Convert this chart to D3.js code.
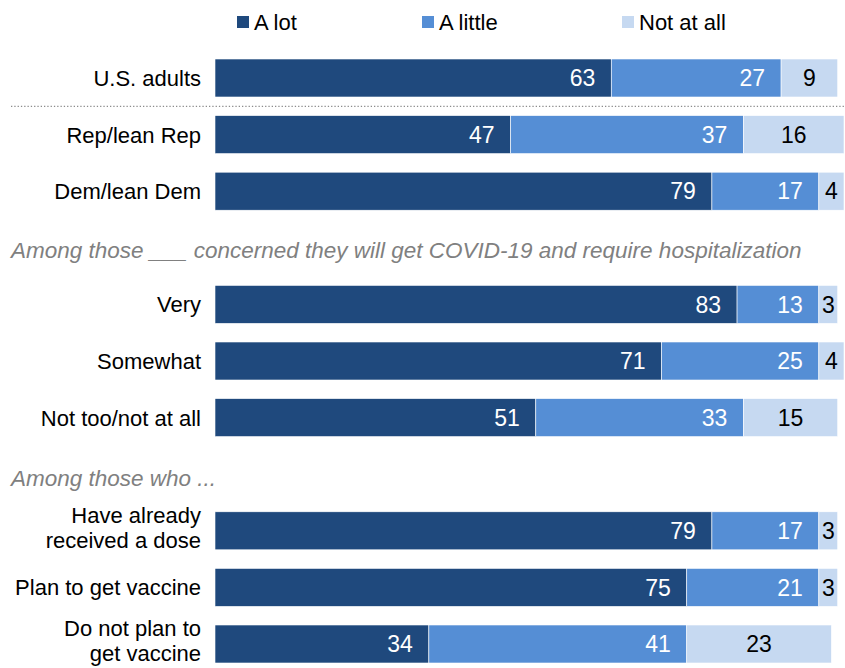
<!DOCTYPE html>
<html>
<head>
<meta charset="utf-8">
<script src="https://cdn.jsdelivr.net/npm/d3@7"></script>
<style>
  html, body { margin: 0; padding: 0; background: #fff; }
  svg { display: block; font-family: "Liberation Sans", Arial, sans-serif; }
</style>
</head>
<body>
<svg id="chart" width="845" height="668"></svg>
<script>
// ---- data ----
const rowKeys = ["us", "rep", "dem", "h1", "very", "somewhat", "nottoo", "h2", "already", "plan", "donot"];
const rowLabels = {
  us: ["U.S. adults"],
  rep: ["Rep/lean Rep"],
  dem: ["Dem/lean Dem"],
  very: ["Very"],
  somewhat: ["Somewhat"],
  nottoo: ["Not too/not at all"],
  already: ["Have already", "received a dose"],
  plan: ["Plan to get vaccine"],
  donot: ["Do not plan to", "get vaccine"]
};
const headings = {
  h1: "Among those ___ concerned they will get COVID-19 and require hospitalization",
  h2: "Among those who ..."
};
const seriesNames = ["A lot", "A little", "Not at all"];
const aLot    = { us: 63, rep: 47, dem: 79, very: 83, somewhat: 71, nottoo: 51, already: 79, plan: 75, donot: 34 };
const aLittle = { us: 27, rep: 37, dem: 17, very: 13, somewhat: 25, nottoo: 33, already: 17, plan: 21, donot: 41 };
const notAtAll= { us: 9,  rep: 16, dem: 4,  very: 3,  somewhat: 4,  nottoo: 15, already: 3,  plan: 3,  donot: 23 };
const colors = ["#1F497D", "#558ED5", "#C6D9F1"];
const labelColors = ["#ffffff", "#ffffff", "#000000"];

// ---- build ----
const svg = d3.select("#chart");
const x = d3.scaleLinear().domain([0, 100]).range([215, 844]);
const y = d3.scalePoint().domain(rowKeys).range([78, 644]);
const barH = 38;
const fontSize = 22;

const dataRows = rowKeys.filter(k => rowLabels[k]).map(k => {
  const vals = [aLot[k], aLittle[k], notAtAll[k]];
  let cum = 0;
  const segs = vals.map((v, i) => { const s = { key: k, i, v, x0: cum, x1: cum + v }; cum += v; return s; });
  return { key: k, segs };
});

// bars
const rows = svg.selectAll("g.row").data(dataRows).join("g").attr("class", "row");
rows.selectAll("rect").data(d => d.segs).join("rect")
  .attr("x", d => x(d.x0))
  .attr("y", d => y(d.key) - barH / 2)
  .attr("width", d => x(d.x1) - x(d.x0))
  .attr("height", barH)
  .attr("fill", d => colors[d.i])
  .attr("stroke", "#ffffff")
  .attr("stroke-width", 0.6);

rows.selectAll("text.val").data(d => d.segs).join("text")
  .attr("class", "val")
  .attr("x", d => d.i === 2 ? (x(d.x0) + x(d.x1)) / 2 : x(d.x1) - 16)
  .attr("y", d => y(d.key))
  .attr("dy", "0.36em")
  .attr("text-anchor", d => d.i === 2 ? "middle" : "end")
  .attr("fill", d => labelColors[d.i])
  .attr("font-size", 23)
  .text(d => d.v);

// category labels
const lab = svg.selectAll("text.cat").data(dataRows).join("text")
  .attr("class", "cat")
  .attr("x", 201)
  .attr("text-anchor", "end")
  .attr("font-size", fontSize)
  .attr("fill", "#000");
lab.each(function(d) {
  const lines = rowLabels[d.key];
  const lh = 25;
  const t = d3.select(this);
  lines.forEach((ln, j) => {
    t.append("tspan")
      .attr("x", 201)
      .attr("y", y(d.key) + (j - (lines.length - 1) / 2) * lh - (lines.length > 1 ? 3 : 0))
      .attr("dy", "0.36em")
      .text(ln);
  });
});

// headings
svg.selectAll("text.head").data(Object.keys(headings)).join("text")
  .attr("class", "head")
  .attr("x", 11)
  .attr("y", k => y(k) + (k === "h1" ? 2 : 4))
  .attr("dy", "0.36em")
  .attr("font-size", 22.5)
  .attr("font-style", "italic")
  .attr("fill", "#808080")
  .text(k => headings[k]);

// dotted separator
svg.append("line")
  .attr("x1", 11).attr("x2", 845)
  .attr("y1", (y("us") + y("rep")) / 2).attr("y2", (y("us") + y("rep")) / 2)
  .attr("stroke", "#8c8c8c")
  .attr("stroke-width", 1.3)
  .attr("stroke-dasharray", "1.3,2");

// legend
const legX = [237, 422, 622];
const leg = svg.selectAll("g.leg").data(seriesNames).join("g").attr("class", "leg")
  .attr("transform", (d, i) => `translate(${legX[i]},0)`);
leg.append("rect").attr("x", 0).attr("y", 16).attr("width", 12).attr("height", 12)
  .attr("fill", (d, i) => colors[i]);
leg.append("text").attr("x", 17).attr("y", 22).attr("dy", "0.36em")
  .attr("font-size", fontSize).attr("fill", "#000").text(d => d);
</script>
</body>
</html>
